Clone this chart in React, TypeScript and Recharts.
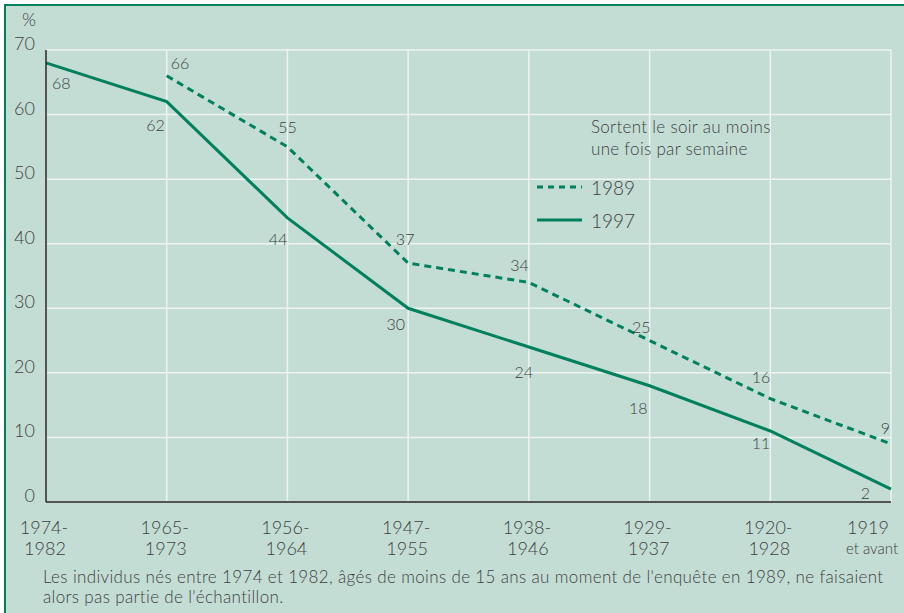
import React from "react"
import { LineChart, Line, XAxis, YAxis, CartesianGrid, LabelList } from "recharts"

const categories = ["1974-1982", "1965-1973", "1956-1964", "1947-1955", "1938-1946", "1929-1937", "1920-1928", "1919 et avant"]
const tickTop = ["1974-", "1965-", "1956-", "1947-", "1938-", "1929-", "1920-", "1919"]
const tickBottom = ["1982", "1973", "1964", "1955", "1946", "1937", "1928", "et avant"]
const series1989 = [null, 66, 55, 37, 34, 25, 16, 9]
const series1997 = [68, 62, 44, 30, 24, 18, 11, 2]
const yTicks = [0, 10, 20, 30, 40, 50, 60, 70]

// label placement around each point: [dx, dy, anchor]
const place1997: [number, number, string][] = [
  [6, 20, "start"],
  [-2, 23, "end"],
  [0, 21, "end"],
  [-3, 15, "end"],
  [-5, 24, "middle"],
  [-2, 22, "end"],
  [0, 12, "end"],
  [-21, 3, "end"],
]
const place1989: [number, number, string][] = [
  [0, 0, "middle"],
  [4, -13, "start"],
  [0, -20, "middle"],
  [-3, -25, "middle"],
  [0, -18, "end"],
  [1, -14, "end"],
  [0, -22, "end"],
  [-1, -16, "end"],
]

const data = categories.map((c, i) => ({
  cat: c,
  v1989: series1989[i],
  v1997: series1997[i],
}))

const GREEN = "#00805c"
const TEXT = "#3f3f3f"
const BG = "#c3ddd5"
const FONT = "Lato, 'Open Sans', sans-serif"

const makeLabel = (place: [number, number, string][]) => (props: any) => {
  const { x, y, value, index } = props
  if (value === null || value === undefined) return null
  const [dx, dy, anchor] = place[index]
  return (
    <text x={x + dx} y={y + dy} fill={TEXT} fontSize={16} fontWeight={300} fontFamily={FONT} textAnchor={anchor} dominantBaseline="central">
      {value}
    </text>
  )
}

const XTick = (props: any) => {
  const { x, y, index } = props
  const last = index === tickTop.length - 1
  return (
    <g fontWeight={300}>
      <text x={last ? x - 23 : x - 2} y={y + 23} fill={TEXT} fontSize={18} fontFamily={FONT} textAnchor="middle" dominantBaseline="central">
        {tickTop[index]}
      </text>
      <text x={last ? x - 19 : x - 1} y={y + 44} fill={TEXT} fontSize={last ? 15 : 18} fontFamily={FONT} textAnchor="middle" dominantBaseline="central">
        {tickBottom[index]}
      </text>
    </g>
  )
}

const YTick = (props: any) => {
  const { y, payload } = props
  return (
    <text x={35} y={y - 7} fill={TEXT} fontSize={18} fontWeight={300} fontFamily={FONT} textAnchor="end" dominantBaseline="central">
      {payload.value}
    </text>
  )
}

const LegendBox = () => (
  <div style={{ position: "absolute", left: 537, top: 116, width: 300, fontFamily: FONT, color: TEXT, fontWeight: 300 }}>
    <div style={{ marginLeft: 54, fontSize: 17, lineHeight: "22px", letterSpacing: 0.3 }}>
      Sortent le soir au moins
      <br />
      une fois par semaine
    </div>
    <div style={{ display: "flex", alignItems: "center", marginTop: 12, height: 30 }}>
      <svg width={54} height={10}>
        <line x1={0} y1={5} x2={45} y2={5} stroke={GREEN} strokeWidth={3} strokeDasharray="6 5" />
      </svg>
      <span style={{ fontSize: 19 }}>1989</span>
    </div>
    <div style={{ display: "flex", alignItems: "center", marginTop: 3, height: 30 }}>
      <svg width={54} height={10}>
        <line x1={0} y1={5} x2={45} y2={5} stroke={GREEN} strokeWidth={3} />
      </svg>
      <span style={{ fontSize: 19 }}>1997</span>
    </div>
  </div>
)

export default function App() {
  return (
    <div style={{ position: "absolute", left: 0, top: 0, width: 904, height: 613, background: "#fff", fontFamily: FONT }}>
      <div
        style={{
          position: "absolute",
          left: 4,
          top: 4,
          right: 0,
          bottom: 0,
          background: BG,
          borderTop: `2px solid ${GREEN}`,
          borderLeft: `2px solid ${GREEN}`,
        }}
      />
      <div style={{ position: "absolute", left: 22, top: 8, fontSize: 18, fontWeight: 300, color: TEXT }}>%</div>
      <div style={{ position: "absolute", top: 0, left: 0 }}>
        <LineChart width={904} height={613} data={data} margin={{ top: 50, right: 13, bottom: 51, left: 6 }}>
          <CartesianGrid stroke="#eef3f1" strokeWidth={1.5} />
          <XAxis
            dataKey="cat"
            height={60}
            interval={0}
            tickLine={false}
            tickSize={0}
            axisLine={{ stroke: "#222", strokeWidth: 1.5 }}
            tick={<XTick />}
          />
          <YAxis
            width={40}
            domain={[0, 70]}
            ticks={yTicks}
            interval={0}
            tickLine={false}
            axisLine={{ stroke: "#222", strokeWidth: 1.5 }}
            tick={<YTick />}
          />
          <Line
            dataKey="v1989"
            name="1989"
            stroke={GREEN}
            strokeWidth={3}
            strokeDasharray="7 5"
            dot={false}
            isAnimationActive={false}
          >
            <LabelList dataKey="v1989" content={makeLabel(place1989)} />
          </Line>
          <Line dataKey="v1997" name="1997" stroke={GREEN} strokeWidth={3} dot={false} isAnimationActive={false}>
            <LabelList dataKey="v1997" content={makeLabel(place1997)} />
          </Line>
        </LineChart>
      </div>
      <LegendBox />
      <div
        style={{
          position: "absolute",
          left: 43,
          top: 567,
          fontSize: 17,
          fontWeight: 300,
          letterSpacing: 0.35,
          lineHeight: "20px",
          color: TEXT,
          width: 870,
          whiteSpace: "nowrap",
        }}
      >
        Les individus nés entre 1974 et 1982, âgés de moins de 15 ans au moment de l'enquête en 1989, ne faisaient
        <br />
        alors pas partie de l'échantillon.
      </div>
    </div>
  )
}
